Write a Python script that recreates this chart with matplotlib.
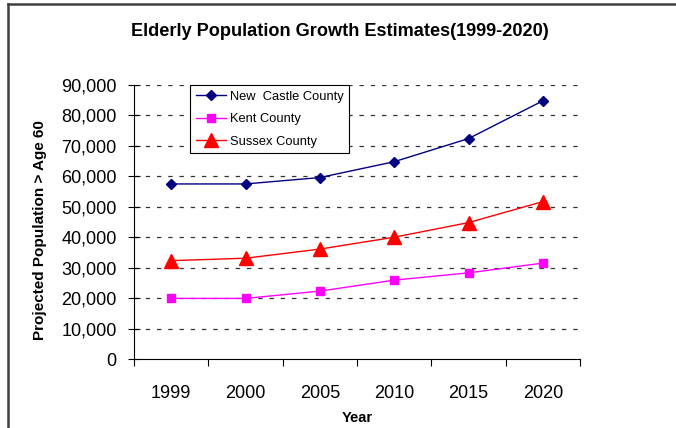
import matplotlib.pyplot as plt
from matplotlib.lines import Line2D
from matplotlib.ticker import FuncFormatter

plt.rcParams['font.family'] = ['Liberation Sans', 'DejaVu Sans']

# Data
years = ['1999', '2000', '2005', '2010', '2015', '2020']
new_castle = [57500, 57500, 59600, 64800, 72400, 84800]
kent = [19900, 19900, 22300, 25900, 28300, 31500]
sussex = [32300, 33100, 36100, 40000, 44800, 51700]

fig = plt.figure(figsize=(6.76, 4.28), dpi=100)
ax = fig.add_axes([134 / 676, 1 - 359 / 428, 446 / 676, 274 / 428])

# outer frame of the chart (only left and top edges visible)
fx, fy = 7.5 / 676, 1 - 3.5 / 428
fig.add_artist(Line2D([fx, fx], [0, fy], transform=fig.transFigure,
                      color='#404040', linewidth=1.8))
fig.add_artist(Line2D([fx, 1], [fy, fy], transform=fig.transFigure,
                      color='#404040', linewidth=1.8))

x = range(len(years))
ax.plot(x, new_castle, color='#000080', marker='D', markersize=5,
        linewidth=1, label='New  Castle County')
ax.plot(x, kent, color='#FF00FF', marker='s', markersize=6,
        linewidth=1, label='Kent County')
ax.plot(x, sussex, color='#FF0000', marker='^', markersize=10,
        linewidth=1, label='Sussex County')

ax.set_xlim(-0.5, 5.5)
ax.set_ylim(0, 90000)
ax.set_yticks(range(0, 90001, 10000))
ax.yaxis.set_major_formatter(FuncFormatter(lambda v, p: f'{int(v):,}'))
ax.tick_params(axis='y', direction='inout', length=8, width=0.8,
               labelsize=13, pad=8.5)

ax.set_xticks(list(x))
ax.set_xticklabels(years)
ax.tick_params(axis='x', which='major', length=0, labelsize=13, pad=19)
ax.set_xticks([i - 0.5 for i in range(len(years) + 1)], minor=True)
ax.tick_params(axis='x', which='minor', direction='out', length=5, width=0.8)

for v in range(10000, 90001, 10000):
    ax.axhline(v, color='#333333', linewidth=0.9, dashes=(3.5, 5.5), zorder=0)

for s in ['top', 'right']:
    ax.spines[s].set_visible(False)
ax.spines['left'].set_linewidth(0.8)
ax.spines['bottom'].set_linewidth(0.8)

ax.set_xlabel('Year', fontsize=10.5, fontweight='bold', labelpad=6)
ax.set_ylabel('Projected Population > Age 60', fontsize=11,
              fontweight='bold', va='center')
ax.yaxis.set_label_coords(-0.211, 0.47)
fig.text(340 / 676, 1 - 31 / 428, 'Elderly Population Growth Estimates(1999-2020)',
         ha='center', va='center', fontsize=13.1, fontweight='bold')

leg = ax.legend(loc='upper left', bbox_to_anchor=(0.126, 1.0), borderaxespad=0,
                fontsize=9.3, frameon=True, fancybox=False, framealpha=1,
                edgecolor='black', handlelength=2.3, handletextpad=0.3,
                labelspacing=0.8, borderpad=0.45)
leg.get_frame().set_linewidth(0.8)

fig.savefig('out.png', dpi=100)
